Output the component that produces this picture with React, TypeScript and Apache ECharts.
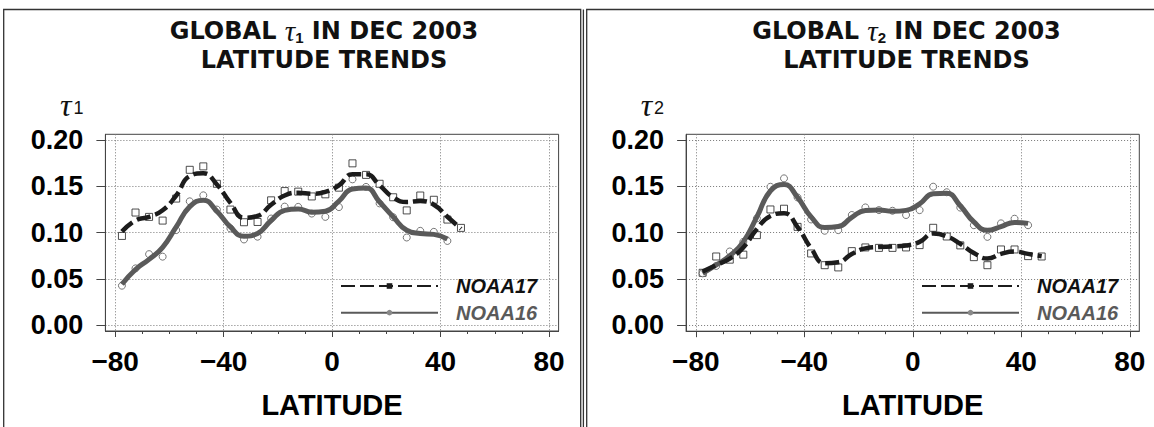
import React, { useEffect, useRef } from 'react';
import * as echarts from 'echarts';

// Latitude bins (degrees)
const LAT_NOAA17 = [-77.5, -72.5, -67.5, -62.5, -57.5, -52.5, -47.5, -42.5, -37.5, -32.5, -27.5, -22.5, -17.5, -12.5, -7.5, -2.5, 2.5, 7.5, 12.5, 17.5, 22.5, 27.5, 32.5, 37.5, 42.5, 47.5];
const LAT_NOAA16 = [-77.5, -72.5, -67.5, -62.5, -57.5, -52.5, -47.5, -42.5, -37.5, -32.5, -27.5, -22.5, -17.5, -12.5, -7.5, -2.5, 2.5, 7.5, 12.5, 17.5, 22.5, 27.5, 32.5, 37.5, 42.5];

// Panel 1: tau1
const TAU1_NOAA17_OBS = [0.0963, 0.1216, 0.1169, 0.1129, 0.1367, 0.1678, 0.1715, 0.1527, 0.1248, 0.1111, 0.1114, 0.1348, 0.1448, 0.1442, 0.139, 0.1413, 0.1485, 0.1748, 0.1623, 0.1527, 0.1381, 0.1239, 0.14, 0.1354, 0.114, 0.105];
const TAU1_NOAA16_OBS = [0.0425, 0.0612, 0.0766, 0.0739, 0.1026, 0.1337, 0.1402, 0.1248, 0.1044, 0.0925, 0.0955, 0.1151, 0.128, 0.1277, 0.1205, 0.1169, 0.1275, 0.1575, 0.1493, 0.1315, 0.1165, 0.0946, 0.1018, 0.1007, 0.0909];
const TAU1_NOAA17_FIT = [0.101, 0.113, 0.117, 0.124, 0.14, 0.161, 0.164, 0.152, 0.132, 0.116, 0.118, 0.13, 0.14, 0.143, 0.142, 0.144, 0.151, 0.163, 0.163, 0.151, 0.138, 0.133, 0.134, 0.13, 0.117, 0.104];
const TAU1_NOAA16_FIT = [0.044, 0.06, 0.071, 0.084, 0.106, 0.128, 0.135, 0.123, 0.106, 0.096, 0.099, 0.113, 0.124, 0.1255, 0.122, 0.123, 0.134, 0.147, 0.148, 0.133, 0.117, 0.1025, 0.099, 0.098, 0.093];

// Panel 2: tau2
const TAU2_NOAA17_OBS = [0.0566, 0.0742, 0.0708, 0.0762, 0.0973, 0.125, 0.1258, 0.1062, 0.0775, 0.0648, 0.0624, 0.08, 0.084, 0.0835, 0.0835, 0.084, 0.0865, 0.1052, 0.0958, 0.0862, 0.0735, 0.0648, 0.0818, 0.0818, 0.0746, 0.0742];
const TAU2_NOAA16_OBS = [0.056, 0.064, 0.0796, 0.09, 0.1154, 0.1495, 0.1586, 0.138, 0.1142, 0.102, 0.1027, 0.119, 0.1272, 0.1243, 0.1236, 0.119, 0.1243, 0.1496, 0.1436, 0.127, 0.108, 0.0954, 0.11, 0.115, 0.108];
const TAU2_NOAA17_FIT = [0.058, 0.065, 0.072, 0.084, 0.104, 0.118, 0.121, 0.106, 0.083, 0.067, 0.068, 0.077, 0.083, 0.0845, 0.085, 0.086, 0.09, 0.099, 0.096, 0.088, 0.078, 0.072, 0.077, 0.0795, 0.077, 0.0745];
const TAU2_NOAA16_FIT = [0.056, 0.065, 0.075, 0.09, 0.117, 0.145, 0.152, 0.138, 0.117, 0.1055, 0.1065, 0.1165, 0.124, 0.1245, 0.123, 0.124, 0.131, 0.142, 0.1425, 0.129, 0.1115, 0.1025, 0.1065, 0.111, 0.11];

// Axis ticks
const X_MAJOR_TICKS = [-80, -40, 0, 40, 80];
const X_MINOR_TICKS = [-70, -60, -50, -30, -20, -10, 10, 20, 30, 50, 60, 70];
const Y_TICKS = [0, 0.05, 0.1, 0.15, 0.2];

const SANS = "'Liberation Sans', Arial, sans-serif";
const SERIF = "'Liberation Serif', 'DejaVu Serif', serif";

const pairs = (xs: number[], ys: number[]) => xs.map((x, i) => [x, ys[i]]);

const X_MIN = -83.6;
const X_MAX = 83.5;
const Y_MIN = -0.0065;
const Y_MAX = 0.2062;

function buildPanel(idx: number, sub: string, obs17: number[], obs16: number[], fit17: number[], fit16: number[]) {
  const mainX = {
    type: 'value',
    gridIndex: idx,
    position: 'bottom',
    min: X_MIN,
    max: X_MAX,
    name: 'LATITUDE',
    nameLocation: 'middle',
    nameGap: 59,
    nameTextStyle: { fontFamily: SANS, fontWeight: 'bold', fontSize: 29, color: '#000' },
    axisLine: { show: true, onZero: false, lineStyle: { color: '#444', width: 1 } },
    axisTick: { show: true, length: 6, customValues: X_MAJOR_TICKS, lineStyle: { color: '#444', width: 1 } },
    axisLabel: {
      show: true,
      customValues: X_MAJOR_TICKS,
      margin: 16,
      fontFamily: SANS,
      fontWeight: 'bold',
      fontSize: 28,
      color: '#000',
      formatter: (v: number) => (v < 0 ? '\u2212' + Math.abs(v) : String(v)),
    },
    splitLine: { show: true, lineStyle: { color: '#777', width: 1, type: [1, 2] } },
  };
  const minorX = {
    type: 'value',
    gridIndex: idx,
    position: 'bottom',
    min: X_MIN,
    max: X_MAX,
    axisLine: { show: false, onZero: false },
    axisTick: { show: true, length: 3, customValues: X_MINOR_TICKS, lineStyle: { color: '#444', width: 1 } },
    axisLabel: { show: false },
    splitLine: { show: false },
  };
  const yAxis = {
    type: 'value',
    gridIndex: idx,
    position: 'left',
    min: Y_MIN,
    max: Y_MAX,
    name: '{t|τ}{s|' + sub + '}',
    nameLocation: 'end',
    nameGap: 13,
    nameTextStyle: {
      align: 'right',
      padding: [0, 22, 0, 0],
      rich: {
        t: { fontFamily: SERIF, fontStyle: 'italic', fontSize: 32, color: '#111' },
        s: { fontFamily: SANS, fontSize: 18, color: '#111', padding: [6, 0, 0, 2] },
      },
    },
    axisLine: { show: true, onZero: false, lineStyle: { color: '#444', width: 1 } },
    axisTick: { show: true, length: 9, customValues: Y_TICKS, lineStyle: { color: '#444', width: 1 } },
    axisLabel: {
      show: true,
      customValues: Y_TICKS,
      margin: 22,
      fontFamily: SANS,
      fontWeight: 'bold',
      fontSize: 27,
      color: '#000',
      formatter: (v: number) => v.toFixed(2),
    },
    splitLine: { show: true, lineStyle: { color: '#777', width: 1, type: [1, 2] } },
  };
  const xi = idx * 2;
  const series = [
    {
      name: 'NOAA17',
      type: 'line',
      xAxisIndex: xi,
      yAxisIndex: idx,
      data: pairs(LAT_NOAA17, fit17),
      smooth: 0.5,
      showSymbol: false,
      symbol: 'rect',
      lineStyle: { color: '#1c1c1c', width: 4.5, type: [14, 5] },
      itemStyle: { color: '#1c1c1c' },
      z: 5,
    },
    {
      name: 'NOAA16',
      type: 'line',
      xAxisIndex: xi,
      yAxisIndex: idx,
      data: pairs(LAT_NOAA16, fit16),
      smooth: 0.5,
      showSymbol: false,
      symbol: 'circle',
      lineStyle: { color: '#5a5a5a', width: 5 },
      itemStyle: { color: '#8a8a8a' },
      z: 4,
    },
    {
      name: 'NOAA17',
      type: 'scatter',
      xAxisIndex: xi,
      yAxisIndex: idx,
      data: pairs(LAT_NOAA17, obs17),
      symbol: 'rect',
      symbolSize: 7,
      itemStyle: { color: '#ffffff', borderColor: '#222', borderWidth: 1 },
      z: 2,
    },
    {
      name: 'NOAA16',
      type: 'scatter',
      xAxisIndex: xi,
      yAxisIndex: idx,
      data: pairs(LAT_NOAA16, obs16),
      symbol: 'circle',
      symbolSize: 7,
      itemStyle: { color: '#ffffff', borderColor: '#555', borderWidth: 1 },
      z: 2,
    },
  ];
  return { xAxes: [mainX, minorX], yAxis, series };
}

function titleText(x: number, sub: string) {
  return {
    type: 'text',
    x,
    y: 16,
    z: 10,
    style: {
      text: 'GLOBAL {t|τ}{s|' + sub + '} IN DEC 2003\nLATITUDE TRENDS',
      align: 'center',
      verticalAlign: 'top',
      fontFamily: "'DejaVu Sans', " + SANS,
      fontWeight: 'bold',
      fontSize: 24,
      lineHeight: 29,
      fill: '#111',
      rich: {
        t: { fontFamily: SERIF, fontStyle: 'italic', fontWeight: 'normal', fontSize: 29, lineHeight: 29, fill: '#111' },
        s: { fontFamily: SANS, fontWeight: 'bold', fontSize: 15, lineHeight: 16, verticalAlign: 'bottom', fill: '#111' },
      },
    },
  };
}

export default function App() {
  const ref = useRef<HTMLDivElement>(null);
  useEffect(() => {
    if (!ref.current) return;
    const chart = echarts.init(ref.current, undefined, { renderer: 'svg' });
    const p1 = buildPanel(0, '1', TAU1_NOAA17_OBS, TAU1_NOAA16_OBS, TAU1_NOAA17_FIT, TAU1_NOAA16_FIT);
    const p2 = buildPanel(1, '2', TAU2_NOAA17_OBS, TAU2_NOAA16_OBS, TAU2_NOAA17_FIT, TAU2_NOAA16_FIT);
    const legendBase = {
      orient: 'vertical',
      top: 276,
      padding: 0,
      itemWidth: 97,
      itemHeight: 7,
      itemGap: 6.7,
      selectedMode: false,
      textStyle: { fontFamily: SANS, fontWeight: 'bold', fontStyle: 'italic', fontSize: 20, padding: [0, 0, 0, 13] },
      data: [
        { name: 'NOAA17', textStyle: { color: '#111' } },
        { name: 'NOAA16', textStyle: { color: '#5a5a5a' } },
      ],
    };
    chart.setOption({
      animation: false,
      backgroundColor: '#ffffff',
      grid: [
        { left: 105.4, top: 134.3, width: 453.2, height: 196.7, show: true, borderColor: '#444', borderWidth: 1, backgroundColor: 'transparent', containLabel: false },
        { left: 686.1, top: 134.3, width: 453.2, height: 196.9, show: true, borderColor: '#444', borderWidth: 1, backgroundColor: 'transparent', containLabel: false },
      ],
      xAxis: [...p1.xAxes, ...p2.xAxes],
      yAxis: [p1.yAxis, p2.yAxis],
      legend: [
        { ...legendBase, left: 340 },
        { ...legendBase, left: 921 },
      ],
      series: [...p1.series, ...p2.series],
      graphic: [
        titleText(324, '1'),
        titleText(906.5, '2'),
        { type: 'rect', shape: { x: 3.7, y: 9.5, width: 577, height: 440 }, style: { fill: 'none', stroke: '#333', lineWidth: 1.3 } },
        { type: 'line', shape: { x1: 583.4, y1: 9.5, x2: 583.4, y2: 440 }, style: { stroke: '#333', lineWidth: 1.3 } },
        { type: 'rect', shape: { x: 586.7, y: 9.5, width: 600, height: 440 }, style: { fill: 'none', stroke: '#333', lineWidth: 1.3 } },
      ],
    });
    return () => chart.dispose();
  }, []);
  return <div ref={ref} style={{ position: 'fixed', left: 0, top: 0, width: 1154, height: 427 }} />;
}
